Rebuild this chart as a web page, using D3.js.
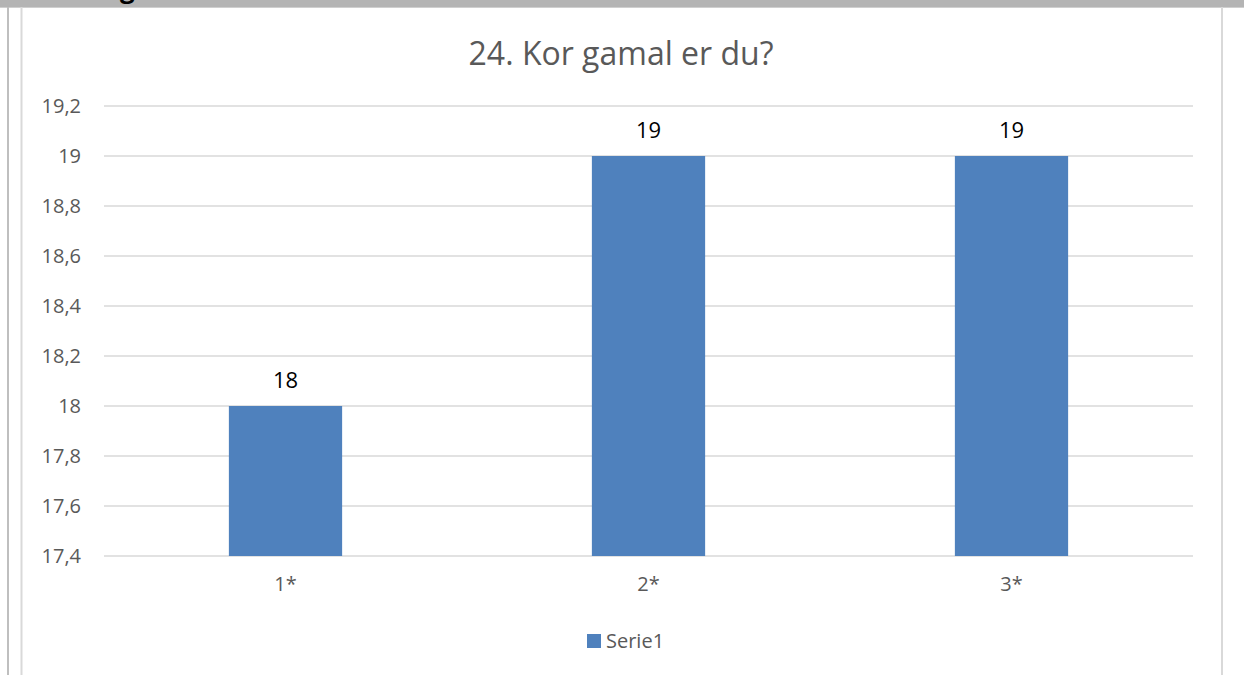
<!DOCTYPE html>
<html lang="nn">

<head>
    <meta charset="UTF-8">
    <title>24. Kor gamal er du?</title>
    <script src="https://d3js.org/d3.v7.min.js"></script>
    <style>
        body {
            margin: 0;
            background: #ffffff;
        }

        svg text {
            font-family: "Open Sans", Lato, sans-serif;
        }
    </style>
</head>

<body>
    <svg id="graph" width="1244" height="675"></svg>

    <script>
        // chart values
        const categories = ["1*", "2*", "3*"];
        const values = [18, 19, 19];
        const yTicks = [17.4, 17.6, 17.8, 18, 18.2, 18.4, 18.6, 18.8, 19, 19.2];
        const seriesName = "Serie1";
        const title = "24. Kor gamal er du?";

        const svg = d3.select("#graph");
        const plot = { left: 104, right: 1193, top: 106, bottom: 556 };

        // page frame round the chart
        svg.append("rect").attr("x", 0).attr("y", 0).attr("width", 1244).attr("height", 7).attr("fill", "#b4b4b4");
        svg.append("text")
            .attr("x", 120).attr("y", -2)
            .attr("font-size", 26).attr("font-weight", "bold").attr("fill", "#000")
            .text("g");
        svg.append("rect").attr("x", 0).attr("y", 7).attr("width", 1244).attr("height", 1).attr("fill", "#cfcfcf");
        svg.append("line").attr("x1", 8).attr("x2", 8).attr("y1", 7).attr("y2", 675)
            .attr("stroke", "#bfbfbf").attr("stroke-width", 2);
        svg.append("line").attr("x1", 21.5).attr("x2", 21.5).attr("y1", 7).attr("y2", 675)
            .attr("stroke", "#d9d9d9").attr("stroke-width", 2);
        svg.append("line").attr("x1", 1222).attr("x2", 1222).attr("y1", 7).attr("y2", 675)
            .attr("stroke", "#d9d9d9").attr("stroke-width", 2);

        const x = d3.scaleBand()
            .domain(categories)
            .range([plot.left, plot.right])
            .padding(0);

        const y = d3.scaleLinear()
            .domain([17.4, 19.2])
            .range([plot.bottom, plot.top]);

        const fmt = d => String(d).replace(".", ",");

        // gridlines
        svg.append("g")
            .selectAll("line")
            .data(yTicks)
            .join("line")
            .attr("x1", plot.left)
            .attr("x2", plot.right)
            .attr("y1", d => y(d))
            .attr("y2", d => y(d))
            .attr("stroke", "#d9d9d9")
            .attr("stroke-width", 1.6);

        // y axis labels
        const yAxis = svg.append("g")
            .attr("transform", `translate(${plot.left - 23},0)`)
            .call(d3.axisLeft(y).tickValues(yTicks).tickFormat(fmt).tickSize(0).tickPadding(0));
        yAxis.select(".domain").remove();
        yAxis.selectAll("text")
            .attr("font-size", 20)
            .attr("fill", "#595959")
            .style("font-family", "'Open Sans', Lato, sans-serif");

        // x axis labels
        const xAxis = svg.append("g")
            .attr("transform", `translate(0,${plot.bottom + 21})`)
            .call(d3.axisBottom(x).tickSize(0).tickPadding(0));
        xAxis.select(".domain").remove();
        xAxis.selectAll("text")
            .attr("font-size", 20)
            .attr("fill", "#595959")
            .style("font-family", "'Open Sans', Lato, sans-serif");

        const barW = x.bandwidth() * 0.312;

        // bars
        svg.append("g")
            .selectAll("rect")
            .data(values)
            .join("rect")
            .attr("x", (d, i) => x(categories[i]) + x.bandwidth() / 2 - barW / 2)
            .attr("width", barW)
            .attr("y", d => y(d))
            .attr("height", d => y(17.4) - y(d))
            .attr("fill", "#4f81bd");

        // data labels
        svg.append("g")
            .selectAll("text")
            .data(values)
            .join("text")
            .attr("x", (d, i) => x(categories[i]) + x.bandwidth() / 2)
            .attr("y", d => y(d) - 18)
            .attr("text-anchor", "middle")
            .attr("font-size", 22)
            .attr("fill", "#000")
            .text(d => fmt(d));

        // title
        svg.append("text")
            .attr("x", 621)
            .attr("y", 65)
            .attr("text-anchor", "middle")
            .attr("font-size", 32)
            .attr("fill", "#595959")
            .text(title);

        // legend
        const legend = svg.append("g").attr("transform", "translate(587,634)");
        legend.append("rect").attr("width", 14).attr("height", 14).attr("fill", "#4f81bd");
        legend.append("text")
            .attr("x", 19).attr("y", 14)
            .attr("font-size", 20)
            .attr("fill", "#595959")
            .text(seriesName);
    </script>
</body>

</html>
